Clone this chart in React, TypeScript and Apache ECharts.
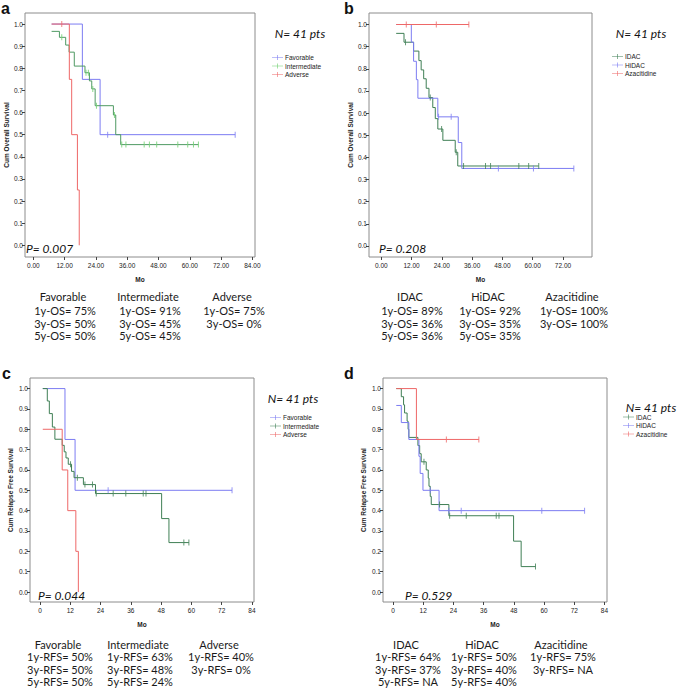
import React, { useEffect, useRef } from "react";
import * as echarts from "echarts";

// ---------- DATA ----------
// Panel a: overall survival by cytogenetic risk
const aFavSteps = [[7, 1.0], [18.8, 0.75], [25.6, 0.5]];
const aFavCens = [[28.5, 0.5], [77.4, 0.5]];
const aIntSteps = [[7, 0.967], [10.0, 0.94], [12.4, 0.905], [13.7, 0.873], [15.7, 0.81], [19.8, 0.78], [21.5, 0.743], [22.4, 0.707], [23.7, 0.631], [30.7, 0.589], [31.6, 0.5], [33.5, 0.455]];
const aIntCens = [[10.9, 0.94], [20.2, 0.78], [21.1, 0.78], [22.8, 0.707], [24.2, 0.631], [31.1, 0.589], [33.9, 0.455], [35.5, 0.455], [42.5, 0.455], [44.5, 0.455], [47.3, 0.455], [55.4, 0.455], [59.2, 0.455], [61.4, 0.455], [63.3, 0.455]];
const aAdvSteps = [[7, 1.0], [13.8, 0.75], [14.7, 0.5], [16.9, 0.25], [17.6, 0]];
const aAdvCens = [[10.9, 1.0]];

// Panel b: overall survival by treatment
const bIdacSteps = [[5.9, 0.96], [9.0, 0.92], [12.8, 0.88], [14.9, 0.837], [15.8, 0.795], [16.8, 0.755], [17.8, 0.712], [18.9, 0.67], [20.4, 0.625], [21.4, 0.575], [22.4, 0.528], [24.4, 0.477], [29.3, 0.423], [30.3, 0.361]];
const bIdacCens = [[9.6, 0.92], [19.4, 0.67], [23.9, 0.528], [29.7, 0.423], [32.6, 0.361], [41.3, 0.361], [43.3, 0.361], [54.5, 0.361], [58.4, 0.361], [62.4, 0.361]];
const bHidacSteps = [[5.9, 1.0], [11.9, 0.92], [12.8, 0.834], [13.9, 0.751], [14.5, 0.667], [22.4, 0.583], [30.5, 0.467], [31.9, 0.35]];
const bHidacCens = [[22.7, 0.583], [27.7, 0.583], [46.4, 0.35], [60.3, 0.35], [76.3, 0.35]];
const bAzaSteps = [[5.9, 1.0]];
const bAzaCens = [[9.9, 1.0], [21.8, 1.0], [34.7, 1.0]];

// Panel c: relapse free survival by cytogenetic risk
const cFavSteps = [[1.1, 1.0], [9.9, 0.75], [13.9, 0.5]];
const cFavCens = [[27.0, 0.5], [76.1, 0.5]];
const cIntSteps = [[1.1, 1.0], [2.9, 0.939], [3.7, 0.877], [4.9, 0.811], [5.9, 0.751], [8.8, 0.721], [9.6, 0.689], [10.3, 0.659], [11.2, 0.628], [12.5, 0.593], [13.5, 0.562], [17.2, 0.528], [22.0, 0.484], [48.2, 0.361], [51.1, 0.243]];
const cIntCens = [[12.1, 0.628], [14.8, 0.562], [17.8, 0.528], [20.8, 0.528], [22.3, 0.484], [29.0, 0.484], [34.0, 0.484], [40.9, 0.484], [42.0, 0.484], [57.0, 0.243], [59.0, 0.243]];
const cAdvSteps = [[1.1, 0.8], [8.8, 0.6], [11.0, 0.4], [14.2, 0.2], [15.2, 0]];

// Panel d: relapse free survival by treatment
const dIdacSteps = [[1.3, 1.0], [3.3, 0.96], [4.2, 0.92], [4.6, 0.88], [5.6, 0.84], [6.0, 0.8], [6.3, 0.76], [9.9, 0.72], [10.6, 0.68], [11.2, 0.64], [13.2, 0.6], [14.0, 0.56], [14.3, 0.52], [14.8, 0.47], [15.2, 0.43], [22.2, 0.375], [47.9, 0.25], [50.9, 0.125]];
const dIdacCens = [[12.3, 0.64], [18.5, 0.43], [22.5, 0.375], [29.1, 0.375], [41.0, 0.375], [42.1, 0.375], [56.6, 0.125]];
const dHidacSteps = [[1.3, 0.917], [3.3, 0.833], [6.3, 0.75], [10.3, 0.667], [10.8, 0.583], [11.9, 0.5], [18.3, 0.4]];
const dHidacCens = [[14.8, 0.5], [22.2, 0.4], [27.1, 0.4], [59.1, 0.4], [76.1, 0.4]];
const dAzaSteps = [[1.3, 1.0], [9.3, 0.75]];
const dAzaCens = [[21.2, 0.75], [34.1, 0.75]];

// Tick labels
const yTicks = [0, 0.1, 0.2, 0.3, 0.4, 0.5, 0.6, 0.7, 0.8, 0.9, 1.0];
const xTicks = [0, 12, 24, 36, 48, 60, 72, 84];

// Legends
const riskGroups = ["Favorable", "Intermediate", "Adverse"];
const treatGroups = ["IDAC", "HiDAC", "Azacitidine"];

// Tables
const aHeads = ["Favorable", "Intermediate", "Adverse"];
const aRows = [["1y-OS= 75%", "3y-OS= 50%", "5y-OS= 50%"], ["1y-OS= 91%", "3y-OS= 45%", "5y-OS= 45%"], ["1y-OS= 75%", "3y-OS= 0%"]];
const bHeads = ["IDAC", "HiDAC", "Azacitidine"];
const bRows = [["1y-OS= 89%", "3y-OS= 36%", "5y-OS= 36%"], ["1y-OS= 92%", "3y-OS= 35%", "5y-OS= 35%"], ["1y-OS= 100%", "3y-OS= 100%"]];
const cHeads = ["Favorable", "Intermediate", "Adverse"];
const cRows = [["1y-RFS= 50%", "3y-RFS= 50%", "5y-RFS= 50%"], ["1y-RFS= 63%", "3y-RFS= 48%", "5y-RFS= 24%"], ["1y-RFS= 40%", "3y-RFS= 0%"]];
const dHeads = ["IDAC", "HiDAC", "Azacitidine"];
const dRows = [["1y-RFS= 64%", "3y-RFS= 37%", "5y-RFS= NA"], ["1y-RFS= 50%", "3y-RFS= 40%", "5y-RFS= 40%"], ["1y-RFS= 75%", "3y-RFS= NA"]];

const pValues = ["P= 0.007", "P= 0.208", "P= 0.044", "P= 0.529"];
const nLabel = "N= 41 pts";

// ---------- STYLE ----------
const BLUE = "#7c7cf2";
const GREEN = "#3f7f55";
const GREEN_A = "#4f9a63";
const LGREEN = "#6dcf6d";
const RED = "#ee6767";
const AX = "Liberation Sans, Arial, sans-serif";
const CAL = "Lato, Carlito, sans-serif";
const PLUS = "path://M0,4.4H22V5.6H0Z M10.4,0H11.6V10H10.4Z";

function km(prefix: string, name: string, steps: number[][], cens: number[][], color: string, idx: number, censColor?: string) {
  const data = [...steps, ...cens].sort((p, q) => p[0] - q[0]);
  const out: any[] = [
    {
      name: prefix + "|" + name,
      type: "line",
      step: "end",
      data,
      xAxisIndex: idx,
      yAxisIndex: idx,
      showSymbol: false,
      silent: true,
      lineStyle: { color, width: 1 },
      itemStyle: { color },
      z: 3,
    },
  ];
  if (cens.length) {
    out.push({
      name: prefix + "|" + name + "|censored",
      type: "scatter",
      data: cens,
      xAxisIndex: idx,
      yAxisIndex: idx,
      symbol: "rect",
      symbolSize: [1, 6],
      silent: true,
      itemStyle: { color: censColor || color },
      z: 4,
    });
  }
  return out;
}

function xAxis(idx: number, min: number, max: number, fmt: (v: number) => string) {
  return {
    type: "value",
    gridIndex: idx,
    position: "bottom",
    min,
    max,
    name: "Mo",
    nameLocation: "middle",
    nameGap: 19,
    nameTextStyle: { fontSize: 6.5, fontWeight: "bold", color: "#222", fontFamily: AX },
    axisLine: { show: false, onZero: false },
    splitLine: { show: false },
    axisTick: { show: true, customValues: xTicks, length: 3, lineStyle: { color: "#444", width: 1 } },
    axisLabel: { customValues: xTicks, formatter: fmt, fontSize: 6.5, color: "#222", margin: 5, fontFamily: AX },
  };
}

function yAxis(idx: number, min: number, max: number, name: string, gap: number) {
  return {
    type: "value",
    gridIndex: idx,
    position: "left",
    min,
    max,
    name,
    nameLocation: "middle",
    nameGap: gap,
    nameTextStyle: { fontSize: 6.5, fontWeight: "bold", color: "#222", fontFamily: AX },
    axisLine: { show: false, onZero: false },
    splitLine: { show: false },
    axisTick: { show: true, customValues: yTicks, length: 3, lineStyle: { color: "#444", width: 1 } },
    axisLabel: { customValues: yTicks, formatter: (v: number) => v.toFixed(1), fontSize: 6.5, color: "#222", margin: 2, fontFamily: AX },
  };
}

function legend(prefix: string, names: string[], left: number, top: number, colors?: Record<string, string>) {
  return {
    data: names.map((n) => {
      const item: any = { name: prefix + "|" + n };
      if (colors && colors[n]) item.itemStyle = { color: colors[n] };
      return item;
    }),
    orient: "vertical",
    left,
    top,
    selectedMode: false,
    icon: PLUS,
    itemWidth: 11,
    itemHeight: 6,
    itemGap: 1.5,
    padding: 0,
    formatter: (n: string) => n.split("|")[1],
    textStyle: { fontSize: 6.5, color: "#222", fontFamily: AX, padding: [0, 0, 0, -3] },
  };
}

function table(heads: string[], rows: string[][], xs: number[], ys: number[]) {
  const els: any[] = [];
  heads.forEach((h, i) => {
    els.push({ type: "text", x: xs[i], y: ys[0], style: { text: h, fontSize: 11, fontFamily: CAL, fill: "#1a1a1a", align: "center", verticalAlign: "middle" } });
    rows[i].forEach((r, j) => {
      els.push({ type: "text", x: xs[i] + 2, y: ys[j + 1], style: { text: r, fontSize: 11, fontFamily: CAL, fill: "#1a1a1a", align: "center", verticalAlign: "middle" } });
    });
  });
  return els;
}

function txt(text: string, x: number, y: number, size: number, extra: any = {}) {
  return { type: "text", x, y, z: 10, style: { text, fontSize: size, fontFamily: CAL, fill: "#111", verticalAlign: "middle", ...extra } };
}

export default function App() {
  const ref = useRef<HTMLDivElement>(null);
  useEffect(() => {
    if (!ref.current) return;
    const chart = echarts.init(ref.current, undefined, { renderer: "svg" });
    const f2 = (v: number) => v.toFixed(2);
    const f0 = (v: number) => String(Math.round(v));
    const gridStyle = { show: true, borderColor: "#8c8c8c", borderWidth: 1, backgroundColor: "transparent" };
    const option: any = {
      animation: false,
      backgroundColor: "#fff",
      grid: [
        { left: 25, top: 13, width: 230, height: 244, ...gridStyle },
        { left: 369, top: 13, width: 223, height: 244, ...gridStyle },
        { left: 30, top: 378, width: 224, height: 224, ...gridStyle },
        { left: 383, top: 378, width: 224, height: 224, ...gridStyle },
      ],
      xAxis: [
        xAxis(0, -3.2, 85.0, f2),
        xAxis(1, -4.87, 83.5, f2),
        xAxis(2, -3.96, 84.8, f0),
        xAxis(3, -3.97, 85.0, f0),
      ],
      yAxis: [
        yAxis(0, -0.053, 1.05, "Cum Overall Survival", 15),
        yAxis(1, -0.05, 1.052, "Cum Overall Survival", 13),
        yAxis(2, -0.049, 1.052, "Cum Relapse Free Survival", 16),
        yAxis(3, -0.049, 1.052, "Cum Relapse Free Survival", 16),
      ],
      legend: [
        legend("a", riskGroups, 272, 54, { Intermediate: LGREEN }),
        legend("b", treatGroups, 612, 53),
        legend("c", riskGroups, 270, 414),
        legend("d", treatGroups, 623, 413.5),
      ],
      series: [
        ...km("a", "Favorable", aFavSteps, aFavCens, BLUE, 0),
        ...km("a", "Intermediate", aIntSteps, aIntCens, GREEN_A, 0, LGREEN),
        ...km("a", "Adverse", aAdvSteps, aAdvCens, RED, 0),
        ...km("b", "IDAC", bIdacSteps, bIdacCens, GREEN, 1),
        ...km("b", "HiDAC", bHidacSteps, bHidacCens, BLUE, 1),
        ...km("b", "Azacitidine", bAzaSteps, bAzaCens, RED, 1),
        ...km("c", "Favorable", cFavSteps, cFavCens, BLUE, 2),
        ...km("c", "Intermediate", cIntSteps, cIntCens, GREEN, 2),
        ...km("c", "Adverse", cAdvSteps, [], RED, 2),
        ...km("d", "IDAC", dIdacSteps, dIdacCens, GREEN, 3),
        ...km("d", "HiDAC", dHidacSteps, dHidacCens, BLUE, 3),
        ...km("d", "Azacitidine", dAzaSteps, dAzaCens, RED, 3),
      ],
      graphic: [
        txt("a", 1, 8, 16, { fontWeight: "bold", fontFamily: AX }),
        txt("b", 344, 8, 16, { fontWeight: "bold", fontFamily: AX }),
        txt("c", 2, 373, 16, { fontWeight: "bold", fontFamily: AX }),
        txt("d", 344, 373, 16, { fontWeight: "bold", fontFamily: AX }),
        txt(nLabel, 300, 33, 12, { fontStyle: "italic", align: "center" }),
        txt(nLabel, 641, 33, 12, { fontStyle: "italic", align: "center" }),
        txt(nLabel, 293, 398, 12, { fontStyle: "italic", align: "center" }),
        txt(nLabel, 651, 407, 12, { fontStyle: "italic", align: "center" }),
        txt(pValues[0], 26, 248, 12, { fontStyle: "italic" }),
        txt(pValues[1], 379, 248, 12, { fontStyle: "italic" }),
        txt(pValues[2], 38, 595, 12, { fontStyle: "italic" }),
        txt(pValues[3], 405, 595, 12, { fontStyle: "italic" }),
        ...table(aHeads, aRows, [63, 148, 232], [296, 310, 323, 335]),
        ...table(bHeads, bRows, [410, 488, 572], [296, 310, 323, 335]),
        ...table(cHeads, cRows, [58, 138, 219], [644, 656.5, 669, 681]),
        ...table(dHeads, dRows, [406, 482, 561], [644, 656.5, 669, 681]),
      ],
    };
    chart.setOption(option);
    return () => chart.dispose();
  }, []);
  return <div ref={ref} style={{ position: "fixed", left: 0, top: 0, width: 685, height: 688, background: "#fff" }} />;
}
